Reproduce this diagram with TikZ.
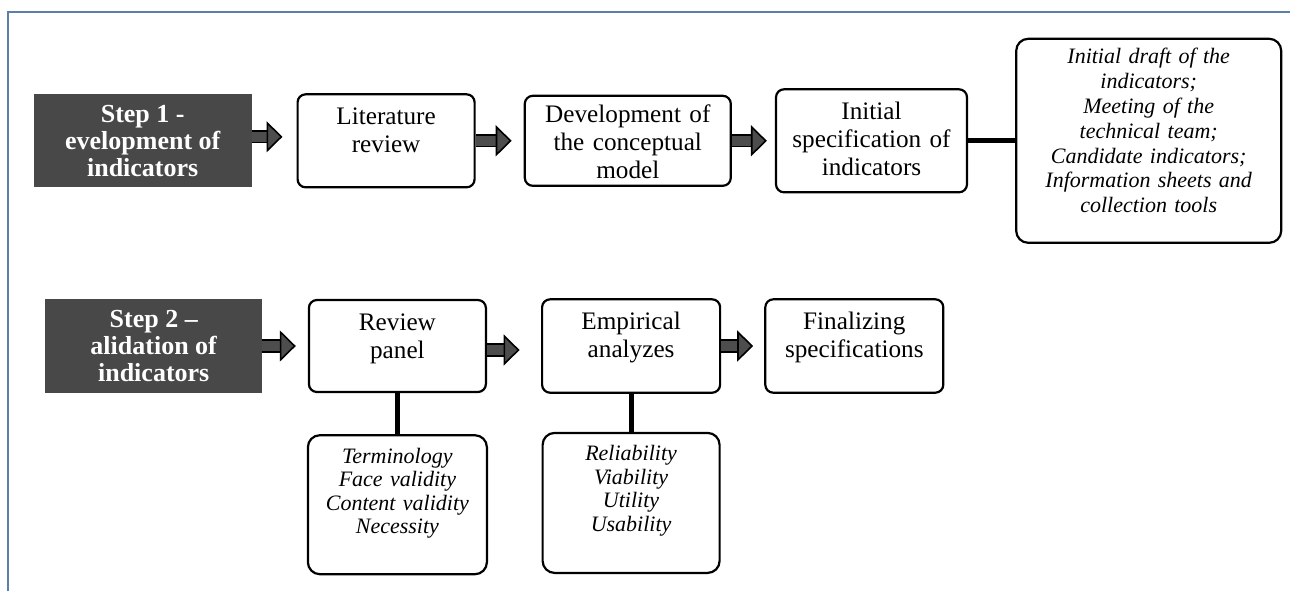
\documentclass[tikz,border=0pt]{standalone}
\usepackage{fontspec}
\setmainfont{Liberation Serif}[
  BoldFont=Liberation Serif Bold,
  ItalicFont=Liberation Serif Italic,
  BoldItalicFont=Liberation Serif Bold Italic]
\usetikzlibrary{arrows.meta,positioning}
\definecolor{stepgray}{HTML}{484848}
\definecolor{arrowgray}{HTML}{4D4D4D}
\definecolor{frameblue}{HTML}{5B7FA6}
\tikzset{
  stepbox/.style={
    fill=stepgray,
    text=white,
    minimum width=109pt,
    minimum height=46.5pt,
    inner sep=0pt,
    align=center,
    font=\fontsize{13}{13.5}\selectfont\bfseries
  },
  flowbox/.style={
    rounded corners=4pt,
    draw=black,
    line width=1.1pt,
    fill=white,
    inner xsep=2pt,
    inner ysep=6pt,
    text height=9pt,
    align=center,
    font=\fontsize{12.6}{14}\selectfont
  },
  notebox/.style={
    flowbox,
    rounded corners=6pt,
    text height=8pt,
    font=\fontsize{11}{11.7}\selectfont\itshape
  },
  blockarrow/.style={
    draw=black,
    line width=0.8pt,
    double=arrowgray,
    double distance=5pt,
    -{Triangle[length=8pt,width=15.5pt,fill=arrowgray,line width=0.8pt]},
    shorten >=6pt
  },
  link/.style={
    line width=2.5pt,
    draw=black
  }
}

\begin{document}
\begin{tikzpicture}[node distance=20pt and 22pt]
\useasboundingbox (-16.65pt,-225.1pt) rectangle (628.35pt,70.4pt);
\draw[frameblue, line width=0.8pt] (-12.65pt,-225.1pt) -- (-12.65pt,64.4pt) -- (628.35pt,64.4pt);

% step 1
\node[stepbox, anchor=west] (step1) at (0,0) {Step 1 -\\evelopment of\\indicators};
\node[flowbox, right=22.2pt of step1, text width=84.5pt, text depth=25.5pt] (lit) {Literature\\review};
\node[flowbox, right=24pt of lit, text width=99pt, text height=7.5pt, text depth=25.5pt] (dev) {Development of\\the conceptual\\model};
\node[flowbox, right=21.5pt of dev, text width=91.5pt, text depth=30.5pt] (init) {Initial\\specification of\\indicators};
\node[notebox, right=23.5pt of init, text width=128.5pt, text height=6.5pt, text depth=83.5pt,
  font=\fontsize{11}{12.4}\selectfont\itshape] (draft) {Initial draft of the\\indicators;\\Meeting of the\\technical team;\\Candidate indicators;\\Information sheets and\\collection tools};

\draw[blockarrow, shorten >=7pt] ([yshift=2pt]step1.east) -- ([yshift=2pt]lit.west);
\draw[blockarrow] (lit) -- (dev);
\draw[blockarrow, shorten >=4pt] (dev) -- (init);
\draw[link] (init) -- (draft);

% step 2
\node[stepbox, minimum width=108.3pt, minimum height=46.7pt, anchor=west] (step2) at (5.85pt,-102.6pt) {Step 2 –\\alidation of\\indicators};
\node[flowbox, right=22.7pt of step2, text width=84.5pt, text depth=25pt] (review) {Review\\panel};
\node[flowbox, right=27pt of review, text width=85pt, text depth=25.7pt] (empirical) {Empirical\\analyzes};
\node[flowbox, right=21.5pt of empirical, text width=85pt, text depth=25.7pt] (final) {Finalizing\\specifications};
\node[notebox, below=20.5pt of review, text width=85.5pt, text depth=49.5pt] (validity) {Terminology\\Face validity\\Content validity\\Necessity};
\node[notebox, below=19pt of empirical, text width=84.5pt, text depth=50pt] (quality) {Reliability\\Viability\\Utility\\Usability};

\draw[blockarrow] (step2) -- (review);
\draw[blockarrow, shorten >=10.7pt] ([yshift=-2pt]review.east) -- ([yshift=-2pt]empirical.west);
\draw[blockarrow, shorten >=5.5pt] (empirical) -- (final);
\draw[link] (review) -- (validity);
\draw[link] (empirical) -- (quality);
\end{tikzpicture}
\end{document}
